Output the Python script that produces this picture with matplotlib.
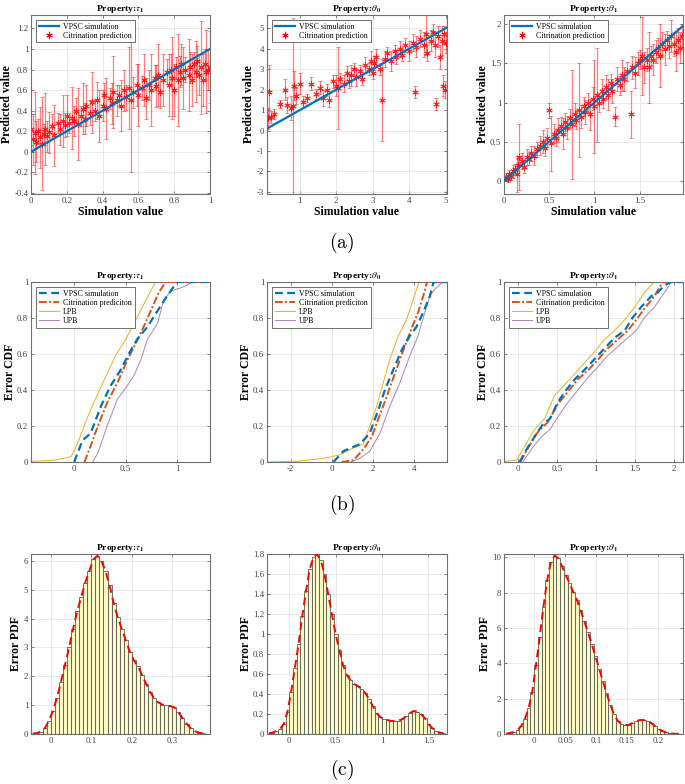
import matplotlib
matplotlib.use("Agg")
import matplotlib.pyplot as plt
from matplotlib.ticker import FuncFormatter

plt.rcParams["font.family"] = ["Liberation Serif", "DejaVu Serif"]
plt.rcParams["mathtext.fontset"] = "stix"
plt.rcParams["axes.unicode_minus"] = False

BLUE, ORANGE, YELLOW, PURPLE = "#0072BD", "#D95319", "#EDB120", "#7E2F8E"
FRAME, TICKC, GRIDC = "#707070", "#404040", "#e2e2e2"

# ---------------- (a) prediction vs simulation ----------------
a1_x = [0.00, 0.01, 0.02, 0.03, 0.04, 0.05, 0.06, 0.07, 0.08, 0.09, 0.10, 0.12, 0.13, 0.15, 0.16,
        0.18, 0.19, 0.20, 0.21, 0.23, 0.24, 0.25, 0.26, 0.28, 0.29, 0.30, 0.31, 0.33, 0.34, 0.36,
        0.37, 0.38, 0.40, 0.41, 0.42, 0.44, 0.45, 0.46, 0.48, 0.49, 0.50, 0.52, 0.53, 0.55, 0.56,
        0.57, 0.59, 0.60, 0.62, 0.63, 0.64, 0.66, 0.67, 0.69, 0.70, 0.71, 0.72, 0.74, 0.76, 0.77,
        0.78, 0.79, 0.80, 0.81, 0.82, 0.83, 0.84, 0.85, 0.86, 0.88, 0.89, 0.90, 0.91, 0.92, 0.93,
        0.94, 0.95, 0.96, 0.97, 0.98, 0.99, 1.00]
a1_y = [0.22, 0.12, 0.18, 0.10, 0.20, 0.14, 0.08, 0.17, 0.22, 0.15, 0.19, 0.25, 0.16, 0.28, 0.22,
        0.30, 0.26, 0.35, 0.28, 0.33, 0.30, 0.40, 0.27, 0.35, 0.42, 0.32, 0.45, 0.38, 0.48, 0.40,
        0.50, 0.35, 0.45, 0.55, 0.42, 0.52, 0.47, 0.58, 0.50, 0.55, 0.45, 0.60, 0.53, 0.62, 0.50,
        0.58, 0.65, 0.55, 0.62, 0.70, 0.52, 0.65, 0.60, 0.72, 0.64, 0.75, 0.58, 0.70, 0.78, 0.65,
        0.80, 0.72, 0.60, 0.82, 0.70, 0.78, 0.85, 0.72, 0.80, 0.75, 0.82, 0.70, 0.85, 0.78, 0.88,
        0.75, 0.82, 0.70, 0.85, 0.78, 0.80, 0.82]
a1_err = [0.15, 0.25, 0.40, 0.20, 0.12, 0.30, 0.45, 0.10, 0.35, 0.15, 0.20, 0.12, 0.30, 0.10, 0.15,
          0.25, 0.12, 0.20, 0.10, 0.30, 0.15, 0.12, 0.35, 0.10, 0.25, 0.15, 0.20, 0.12, 0.30, 0.10,
          0.18, 0.25, 0.15, 0.12, 0.30, 0.10, 0.20, 0.35, 0.15, 0.10, 0.25, 0.20, 0.12, 0.40, 0.70,
          0.15, 0.20, 0.30, 0.12, 0.25, 0.20, 0.15, 0.35, 0.12, 0.20, 0.30, 0.15, 0.25, 0.12, 0.30,
          0.15, 0.40, 0.25, 0.10, 0.45, 0.15, 0.20, 0.30, 0.12, 0.35, 0.15, 0.25, 0.12, 0.30, 0.15,
          0.20, 0.45, 0.25, 0.15, 0.40, 0.20, 0.35]

a2_x = [0.12, 0.15, 0.20, 0.30, 0.45, 0.60, 0.65, 0.75, 0.80, 0.85, 0.90, 1.00, 1.10, 1.20, 1.30,
        1.45, 1.55, 1.65, 1.75, 1.80, 1.90, 2.00, 2.05, 2.10, 2.20, 2.30, 2.35, 2.40, 2.50, 2.55,
        2.65, 2.70, 2.80, 2.90, 2.95, 3.00, 3.05, 3.10, 3.20, 3.25, 3.35, 3.40, 3.50, 3.60, 3.65,
        3.75, 3.80, 3.90, 4.00, 4.10, 4.15, 4.20, 4.30, 4.40, 4.45, 4.50, 4.60, 4.65, 4.70, 4.75,
        4.80, 4.85, 4.90, 4.92, 4.95, 4.98, 5.00]
a2_y = [0.60, 1.90, 0.65, 0.80, 1.30, 2.00, 1.25, 1.10, 1.20, 2.20, 1.70, 2.30, 1.40, 1.60, 2.30,
        1.80, 2.10, 1.60, 2.00, 1.50, 2.40, 2.20, 2.10, 2.50, 2.30, 2.80, 2.40, 2.70, 3.00, 2.60,
        2.90, 2.50, 3.20, 3.00, 3.40, 2.80, 3.30, 3.60, 3.00, 1.50, 3.50, 3.80, 3.40, 3.90, 3.60,
        4.00, 3.70, 4.20, 3.90, 4.30, 1.90, 4.10, 4.50, 4.20, 4.70, 3.80, 4.40, 4.80, 4.20, 1.30,
        4.60, 3.60, 4.40, 2.20, 4.70, 2.00, 4.30]
a2_err = [0.50, 1.30, 0.30, 0.25, 0.20, 0.50, 0.40, 0.60, 4.30, 0.70, 0.40, 0.50, 0.30, 0.20, 0.30,
          0.25, 0.30, 0.40, 0.30, 0.35, 0.30, 0.50, 2.00, 0.30, 0.40, 0.35, 0.30, 0.50, 0.30, 0.40,
          0.30, 0.25, 0.40, 0.30, 0.50, 0.30, 0.35, 0.40, 0.30, 2.00, 0.40, 0.30, 0.50, 0.30, 0.35,
          0.40, 0.30, 0.35, 0.50, 0.40, 0.30, 0.50, 0.40, 0.60, 1.00, 0.40, 0.50, 0.40, 0.60, 0.30,
          0.50, 0.60, 0.70, 0.50, 0.40, 0.40, 0.50]

a3_x = [0.00, 0.02, 0.04, 0.06, 0.08, 0.10, 0.12, 0.14, 0.16, 0.17, 0.20, 0.22, 0.25, 0.28, 0.30,
        0.33, 0.36, 0.40, 0.43, 0.45, 0.48, 0.50, 0.52, 0.55, 0.58, 0.60, 0.63, 0.65, 0.68, 0.70,
        0.73, 0.75, 0.78, 0.80, 0.83, 0.85, 0.88, 0.90, 0.93, 0.95, 0.98, 1.00, 1.03, 1.05, 1.08,
        1.10, 1.13, 1.15, 1.18, 1.20, 1.23, 1.25, 1.28, 1.30, 1.33, 1.36, 1.40, 1.42, 1.45, 1.48,
        1.50, 1.53, 1.55, 1.58, 1.60, 1.63, 1.65, 1.68, 1.70, 1.73, 1.75, 1.78, 1.80, 1.83, 1.85,
        1.88, 1.90, 1.93, 1.95, 1.97]
a3_y = [0.03, 0.05, 0.02, 0.08, 0.06, 0.12, 0.15, 0.08, 0.20, 0.30, 0.25, 0.18, 0.30, 0.28, 0.35,
        0.32, 0.40, 0.45, 0.50, 0.42, 0.55, 0.90, 0.48, 0.60, 0.55, 0.65, 0.70, 0.60, 0.75, 0.68,
        0.80, 0.72, 0.85, 0.78, 0.90, 0.82, 0.95, 0.88, 1.00, 0.85, 1.05, 0.95, 1.10, 1.00, 1.15,
        1.05, 1.20, 1.10, 1.25, 1.15, 0.82, 1.30, 1.22, 1.35, 1.30, 1.40, 0.85, 1.45, 1.38, 1.50,
        1.55, 1.60, 1.45, 1.55, 1.45, 1.60, 1.55, 1.65, 1.70, 1.60, 1.75, 1.68, 1.80, 1.72, 1.85,
        1.75, 1.65, 1.80, 1.70, 1.85]
a3_err = [0.04, 0.05, 0.04, 0.06, 0.05, 0.08, 0.06, 0.23, 0.08, 0.42, 0.10, 0.08, 0.10, 0.08, 0.10,
          0.12, 0.10, 0.12, 0.15, 0.10, 0.12, 0.10, 0.35, 0.12, 0.10, 0.15, 0.12, 0.20, 0.12, 0.15,
          0.12, 0.70, 0.15, 0.12, 0.60, 0.15, 0.12, 0.15, 0.12, 0.20, 0.15, 0.60, 0.60, 0.12, 0.15,
          0.12, 0.15, 0.20, 0.12, 0.15, 0.12, 0.15, 0.12, 0.20, 0.15, 0.12, 0.30, 0.15, 0.20, 0.15,
          0.12, 0.50, 0.20, 0.15, 0.45, 0.12, 0.20, 0.15, 0.12, 0.40, 0.15, 0.20, 0.12, 0.15, 0.20,
          0.15, 0.25, 0.15, 0.20, 0.15]

# ---------------- (b) error CDFs ----------------
b1_vpsc_x = [0.0, 0.08, 0.16, 0.26, 0.35, 0.45, 0.53, 0.61, 0.71, 0.81, 0.90, 1.0, 1.35]
b1_vpsc_y = [0.0, 0.12, 0.16, 0.31, 0.42, 0.51, 0.60, 0.68, 0.75, 0.84, 0.92, 1.0, 1.0]
b1_cit_x = [0.10, 0.16, 0.23, 0.32, 0.42, 0.52, 0.60, 0.69, 0.76, 0.82, 0.89, 1.35]
b1_cit_y = [0.0, 0.09, 0.20, 0.33, 0.44, 0.57, 0.66, 0.77, 0.86, 0.94, 1.0, 1.0]
b1_lpb_x = [-0.45, -0.19, -0.03, 0.03, 0.13, 0.23, 0.32, 0.40, 0.50, 0.58, 0.68, 0.79, 1.35]
b1_lpb_y = [0.003, 0.01, 0.03, 0.10, 0.25, 0.38, 0.49, 0.59, 0.68, 0.77, 0.88, 1.0, 1.0]
b1_upb_x = [0.18, 0.23, 0.32, 0.42, 0.50, 0.58, 0.65, 0.71, 0.81, 0.87, 0.94, 1.05, 1.16, 1.35]
b1_upb_y = [0.0, 0.05, 0.20, 0.35, 0.41, 0.48, 0.57, 0.68, 0.77, 0.90, 0.95, 0.97, 1.0, 1.0]

b2_vpsc_x = [0.08, 0.56, 1.37, 1.85, 2.26, 2.58, 2.98, 3.39, 3.79, 4.11, 4.44, 4.76, 4.95, 5.7]
b2_vpsc_y = [0.0, 0.06, 0.10, 0.16, 0.29, 0.40, 0.51, 0.62, 0.70, 0.75, 0.83, 0.92, 1.0, 1.0]
b2_cit_x = [0.48, 1.05, 1.53, 1.94, 2.26, 2.66, 3.06, 3.47, 3.87, 4.19, 4.44, 4.63, 5.7]
b2_cit_y = [0.0, 0.01, 0.07, 0.14, 0.24, 0.36, 0.49, 0.62, 0.74, 0.83, 0.92, 1.0, 1.0]
b2_lpb_x = [-3.2, -1.7, -0.4, 0.4, 0.89, 1.53, 1.85, 2.18, 2.50, 2.82, 3.23, 3.63, 3.95, 4.24, 5.7]
b2_lpb_y = [0.0, 0.004, 0.02, 0.04, 0.07, 0.10, 0.20, 0.31, 0.44, 0.57, 0.70, 0.79, 0.90, 1.0, 1.0]
b2_upb_x = [0.89, 1.37, 1.85, 2.34, 2.82, 3.31, 3.79, 4.19, 4.52, 4.76, 5.0, 5.4, 5.7]
b2_upb_y = [0.0, 0.02, 0.06, 0.16, 0.31, 0.44, 0.59, 0.70, 0.83, 0.92, 0.96, 1.0, 1.0]

b3_vpsc_x = [0.02, 0.11, 0.24, 0.32, 0.41, 0.51, 0.60, 0.73, 0.85, 0.98, 1.11, 1.24, 1.37, 1.47,
             1.58, 1.71, 1.79, 1.88, 1.96, 2.15]
b3_vpsc_y = [0.0, 0.07, 0.16, 0.21, 0.24, 0.33, 0.39, 0.46, 0.51, 0.57, 0.63, 0.69, 0.73, 0.80,
             0.86, 0.92, 0.94, 0.98, 1.0, 1.0]
b3_cit_x = [0.03, 0.13, 0.26, 0.38, 0.51, 0.64, 0.77, 0.90, 1.03, 1.15, 1.28, 1.41, 1.52, 1.62,
            1.75, 1.86, 2.15]
b3_cit_y = [0.0, 0.08, 0.17, 0.22, 0.32, 0.39, 0.46, 0.51, 0.57, 0.63, 0.68, 0.73, 0.79, 0.85,
            0.92, 1.0, 1.0]
b3_lpb_x = [-0.2, -0.02, 0.09, 0.21, 0.34, 0.47, 0.60, 0.73, 0.85, 0.98, 1.11, 1.24, 1.37, 1.50,
            1.62, 1.75, 2.15]
b3_lpb_y = [0.003, 0.01, 0.09, 0.18, 0.24, 0.37, 0.43, 0.49, 0.55, 0.61, 0.68, 0.73, 0.79, 0.86,
            0.94, 1.0, 1.0]
b3_upb_x = [0.06, 0.17, 0.30, 0.41, 0.51, 0.64, 0.77, 0.90, 1.03, 1.15, 1.28, 1.41, 1.52, 1.62,
            1.75, 1.88, 1.97, 2.15]
b3_upb_y = [0.0, 0.07, 0.14, 0.18, 0.25, 0.33, 0.40, 0.47, 0.53, 0.59, 0.64, 0.69, 0.73, 0.80,
            0.86, 0.94, 1.0, 1.0]

# ---------------- (c) error PDFs (histogram bin heights) ----------------
c1_start, c1_width = -0.05, 0.01
c1_heights = [0.01, 0.03, 0.08, 0.20, 0.45, 0.80, 1.25, 1.80, 2.40, 3.00, 3.65, 4.25, 4.75, 5.25,
              5.65, 6.05, 6.18, 6.00, 5.65, 5.15, 4.55, 4.05, 3.65, 3.25, 2.85, 2.55, 2.35, 2.05,
              1.75, 1.45, 1.25, 1.10, 1.02, 0.99, 0.97, 0.92, 0.76, 0.55, 0.36, 0.20, 0.10, 0.05,
              0.02, 0.01]
c2_start, c2_width = -0.24, 0.04
c2_heights = [0.005, 0.015, 0.03, 0.05, 0.10, 0.22, 0.42, 0.66, 0.90, 1.18, 1.43, 1.65, 1.77, 1.80,
              1.74, 1.60, 1.40, 1.20, 1.00, 0.84, 0.69, 0.59, 0.54, 0.50, 0.48, 0.45, 0.41, 0.35,
              0.28, 0.21, 0.17, 0.15, 0.14, 0.13, 0.13, 0.135, 0.15, 0.18, 0.21, 0.23, 0.225, 0.20,
              0.16, 0.10, 0.06, 0.03, 0.015, 0.007]
c3_start, c3_width = -0.048, 0.006
c3_heights = [0.02, 0.06, 0.11, 0.22, 0.45, 0.85, 1.45, 2.40, 3.90, 5.50, 7.20, 8.70, 9.75, 10.10,
              9.95, 9.50, 9.00, 8.55, 8.05, 7.60, 7.00, 6.40, 5.75, 5.10, 4.40, 3.70, 3.00, 2.30,
              1.65, 1.12, 0.75, 0.56, 0.51, 0.52, 0.63, 0.73, 0.79, 0.79, 0.75, 0.63, 0.45, 0.30,
              0.17, 0.09, 0.04, 0.02, 0.01, 0.005]

W, H = 685, 784
fig = plt.figure(figsize=(W / 100, H / 100), dpi=100)
cols = [(31, 210), (267, 447), (504, 683)]
rows = [(15, 194), (282, 462), (554, 734)]
titles = [r"Property:$\tau_{\mathbf{1}}$", r"Property:$\theta_{\mathbf{0}}$", r"Property:$\theta_{\mathbf{1}}$"]
fmt = FuncFormatter(lambda v, p: f"{v:g}")
ASTER = (6, 2, 0)   # asterisk marker like MATLAB '*'


def make_ax(c, r):
    (l, rr), (t, b) = cols[c], rows[r]
    ax = fig.add_axes([l / W, 1 - b / H, (rr - l) / W, (b - t) / H])
    for s in ax.spines.values():
        s.set_color(FRAME); s.set_linewidth(0.8)
    ax.tick_params(direction="in", length=2.5, width=0.6, color=FRAME, labelcolor=TICKC,
                   labelsize=6.3, pad=2, top=True, right=True)
    ax.grid(True, color=GRIDC, lw=0.5)
    ax.set_axisbelow(True)
    ax.xaxis.set_major_formatter(fmt); ax.yaxis.set_major_formatter(fmt)
    ax.set_title(titles[c], fontsize=6.8, fontweight="bold", pad=3)
    return ax


def legend(ax, handles, labels):
    lg = ax.legend(handles, labels, loc="upper left", fontsize=5.7, fancybox=False, framealpha=1,
                   edgecolor=FRAME, handlelength=2.6, borderpad=0.35, labelspacing=0.15,
                   borderaxespad=0.6, handletextpad=0.5)
    lg.get_frame().set_linewidth(0.7)


# row (a)
a_data = [(a1_x, a1_y, a1_err), (a2_x, a2_y, a2_err), (a3_x, a3_y, a3_err)]
a_lims = [((0, 1.0), (-0.41, 1.33)), ((0.1, 5.04), (-3.1, 5.65)), ((0, 1.98), (-0.17, 2.12))]
a_xt = [[0, 0.2, 0.4, 0.6, 0.8, 1], [1, 2, 3, 4, 5], [0, 0.5, 1, 1.5]]
a_yt = [[-0.4, -0.2, 0, 0.2, 0.4, 0.6, 0.8, 1, 1.2], [-3, -2, -1, 0, 1, 2, 3, 4, 5],
        [0, 0.5, 1, 1.5, 2]]
for i, (x, y, e) in enumerate(a_data):
    ax = make_ax(i, 0)
    eb = ax.errorbar(x, y, yerr=e, fmt="none", ecolor=(1, 0, 0, 0.5), elinewidth=0.9,
                     capsize=1.6, capthick=0.6, zorder=2)
    ax.plot(x, y, ls="none", marker=ASTER, color=(1, 0, 0, 0.8), ms=4.5, mew=0.7, zorder=2)
    xl, yl = a_lims[i]
    ln, = ax.plot([xl[0], xl[1]], [xl[0], xl[1]], color=BLUE, lw=1.6, zorder=3)
    ax.set_xlim(*xl); ax.set_ylim(*yl)
    ax.set_xticks(a_xt[i]); ax.set_yticks(a_yt[i])
    ax.set_xlabel("Simulation value", fontsize=8.5, fontweight="bold", labelpad=1)
    ax.set_ylabel("Predicted value", fontsize=8.5, fontweight="bold", labelpad=1)
    mk = ax.errorbar([], [], yerr=[], fmt="none", ecolor=(1, 0, 0, 0.5), elinewidth=0.9)
    pt, = ax.plot([], [], ls="none", marker=ASTER, color="red", ms=4.5, mew=0.7)
    legend(ax, [ln, (mk, pt)], ["VPSC simulation", "Citrination prediction"])

# row (b)
b_data = [
    (b1_vpsc_x, b1_vpsc_y, b1_cit_x, b1_cit_y, b1_lpb_x, b1_lpb_y, b1_upb_x, b1_upb_y),
    (b2_vpsc_x, b2_vpsc_y, b2_cit_x, b2_cit_y, b2_lpb_x, b2_lpb_y, b2_upb_x, b2_upb_y),
    (b3_vpsc_x, b3_vpsc_y, b3_cit_x, b3_cit_y, b3_lpb_x, b3_lpb_y, b3_upb_x, b3_upb_y),
]
b_xlim = [(-0.42, 1.32), (-3.15, 5.6), (-0.18, 2.12)]
b_xt = [[0, 0.5, 1], [-2, 0, 2, 4], [0, 0.5, 1, 1.5, 2]]
for i, (vx, vy, cx, cy, lx, ly, ux, uy) in enumerate(b_data):
    ax = make_ax(i, 1)
    h1, = ax.plot(vx, vy, color=BLUE, lw=1.6, ls=(0, (3.5, 2)), zorder=4)
    h2, = ax.plot(cx, cy, color=ORANGE, lw=1.4, ls=(0, (4, 1.2, 1, 1.2)), zorder=3)
    h3, = ax.plot(lx, ly, color=YELLOW, lw=0.7, zorder=2)
    h4, = ax.plot(ux, uy, color=PURPLE, lw=0.7, alpha=0.6, zorder=2)
    ax.set_xlim(*b_xlim[i]); ax.set_ylim(0, 1)
    ax.set_xticks(b_xt[i]); ax.set_yticks([0, 0.2, 0.4, 0.6, 0.8, 1])
    ax.set_ylabel("Error CDF", fontsize=8.5, fontweight="bold", labelpad=1)
    legend(ax, [h1, h2, h3, h4], ["VPSC simulation", "Citrination prediciton", "LPB", "UPB"])

# row (c)
c_data = [(c1_start, c1_width, c1_heights), (c2_start, c2_width, c2_heights),
          (c3_start, c3_width, c3_heights)]
c_xlim = [(-0.049, 0.393), (-0.24, 1.70), (-0.0487, 0.2405)]
c_ylim = [6.24, 1.803, 10.19]
c_xt = [[0, 0.1, 0.2, 0.3], [0, 0.5, 1, 1.5], [0, 0.05, 0.1, 0.15, 0.2]]
c_yt = [[0, 1, 2, 3, 4, 5, 6], [0, 0.2, 0.4, 0.6, 0.8, 1, 1.2, 1.4, 1.6, 1.8],
        [0, 2, 4, 6, 8, 10]]
for i, (s, w, h) in enumerate(c_data):
    ax = make_ax(i, 2)
    centers = [s + w * (k + 0.5) for k in range(len(h))]
    ax.bar(centers, h, width=w, color="#fbfac4", edgecolor="#5a5a5a", linewidth=0.6, zorder=2)
    ax.plot(centers, h, color="red", lw=1.4, ls=(0, (4, 2.5)), zorder=3)
    ax.set_xlim(*c_xlim[i]); ax.set_ylim(0, c_ylim[i])
    ax.set_xticks(c_xt[i]); ax.set_yticks(c_yt[i])
    ax.set_ylabel("Error PDF", fontsize=8.5, fontweight="bold", labelpad=1)

for lab, yy in [("(a)", 243), ("(b)", 505), ("(c)", 770)]:
    fig.text(342 / W, 1 - yy / H, r"$\mathrm{" + lab + "}$", ha="center", va="center",
             fontsize=14, math_fontfamily="cm")

fig.savefig("out.png", dpi=100)
